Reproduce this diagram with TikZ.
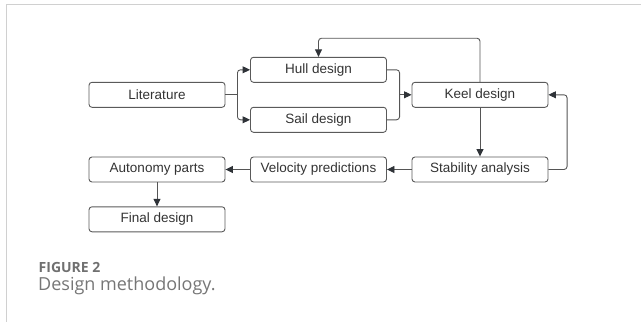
\documentclass[tikz,border=0pt]{standalone}
\usepackage{fontspec}
\setmainfont{Liberation Sans}
\newfontfamily\capfont{Open Sans}
\usetikzlibrary{positioning,arrows.meta}

\definecolor{boxline}{HTML}{5A5A5A}
\definecolor{boxtext}{HTML}{333333}
\definecolor{arrowline}{HTML}{555555}
\definecolor{arrowtip}{HTML}{2F3338}
\definecolor{framegray}{HTML}{D0D0D0}
\definecolor{capgray}{HTML}{707070}
\definecolor{captext}{HTML}{767676}

\tikzset{
    box/.style={rectangle, draw=boxline, line width=0.9pt, rounded corners=3pt,
        minimum width=136pt, minimum height=25pt, text=boxtext,
        font=\fontsize{13.5pt}{16pt}\selectfont},
    link/.style={draw=arrowline, line width=0.9pt, rounded corners=3pt},
    arr/.style={link, -{Triangle[length=7.5pt,width=7pt,color=arrowtip]}},
    frame/.style={draw=framegray, line width=1.4pt}
}

\begin{document}
\begin{tikzpicture}[node distance=161.5pt]
        \useasboundingbox (0,0) rectangle (641pt,-322pt);
        \draw [frame] (641pt,-4.7pt) -- (6.3pt,-4.7pt) -- (6.3pt,-322pt);

        \node (lit) [box] at (157pt,-94.8pt) {Literature};
        \node (hull) [box, right of=lit, yshift=25pt] {Hull design};
        \node (sail) [box, right of=lit, yshift=-25pt] {Sail design};
        \node (keel) [box, right of=hull, yshift=-25pt] {Keel design};
        \node (stab) [box, below of=keel, node distance=74.7pt] {Stability analysis};
        \node (velo) [box, left of=stab] {Velocity predictions};
        \node (auto) [box, left of=velo] {Autonomy parts};
        \node (fin) [box, below of=auto, node distance=49.8pt] {Final design};

        \coordinate [right=12pt of lit.east] (split);
        \coordinate [left=12pt of keel.west] (join);

        \path [link] (lit.east) -- (split);
        \path [arr] (split) |- (hull.west);
        \path [arr] (split) |- (sail.west);
        \path [link] (hull.east) -| (join);
        \path [link] (sail.east) -| (join);
        \path [arr] (join) -- (keel.west);
        \path [arr] (keel.north) -- ++(0,43.6pt) -| (hull.north);
        \path [arr] (keel) edge (stab)
                    (stab) edge (velo)
                    (velo) edge (auto)
                    (auto) edge (fin);
        \path [arr] (stab.east) -- ++(18.6pt,0) |- (keel.east);

        \node (figno) [anchor=base west, inner sep=0, text=capgray,
            font=\capfont\bfseries\fontsize{14pt}{16pt}\selectfont] at (38.5pt,-272pt) {FIGURE 2};
        \node (figcap) [anchor=base west, inner sep=0, text=captext,
            font=\capfont\fontsize{18pt}{21pt}\selectfont] at (38pt,-290.5pt) {Design methodology.};
    \end{tikzpicture}
\end{document}
